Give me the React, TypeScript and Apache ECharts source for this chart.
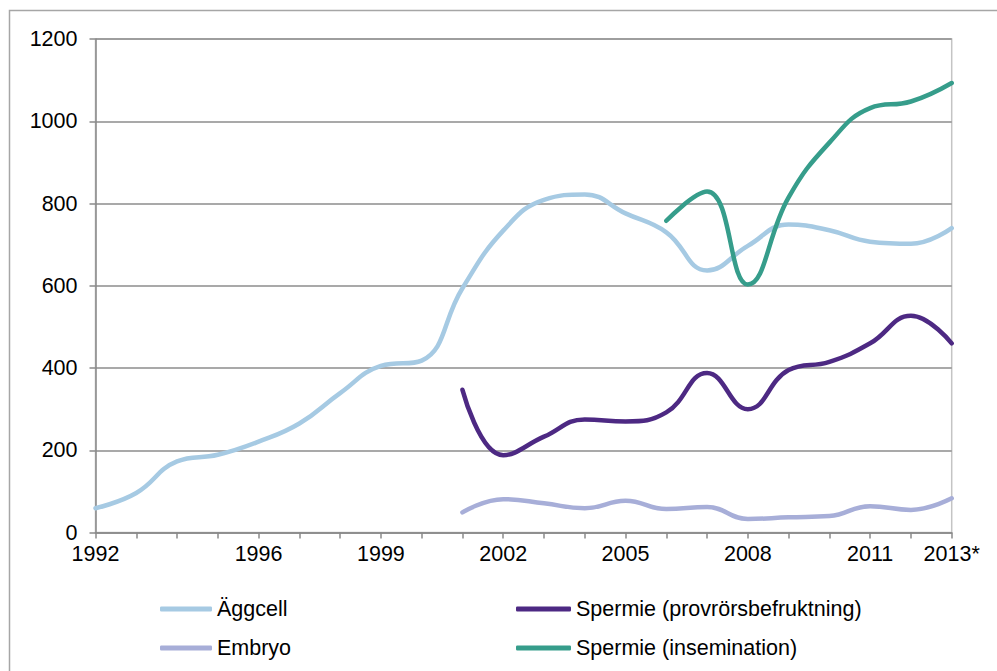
import React, { useEffect, useRef } from "react";
import * as echarts from "echarts";

const years = ["1992","1993","1994","1995","1996","1997","1998","1999","2000","2001","2002","2003","2004","2005","2006","2007","2008","2009","2010","2011","2012","2013*"];
const shownLabels = ["1992","1996","1999","2002","2005","2008","2011","2013*"];

const aggcell = [59, 96, 173, 189, 221, 265, 339, 405, 418, 594, 734, 809, 822, 776, 730, 637, 697, 749, 735, 707, 702, 740];
const spermieProvror = [null, null, null, null, null, null, null, null, null, 347, 188, 233, 275, 270, 292, 388, 300, 395, 415, 460, 527, 460];
const embryo = [null, null, null, null, null, null, null, null, null, 49, 81, 71, 59, 77, 57, 62, 33, 37, 40, 64, 55, 83];
const spermieInsem = [null, null, null, null, null, null, null, null, null, null, null, null, null, null, 758, 829, 603, 815, 948, 1032, 1048, 1093];

const yTicks = [0, 200, 400, 600, 800, 1000, 1200];

const FONT = "Liberation Sans, Arial, sans-serif";
const FS = 21.5;

export default function App() {
  const ref = useRef<HTMLDivElement>(null);
  useEffect(() => {
    if (!ref.current) return;
    const chart = echarts.init(ref.current, null, { renderer: "svg" });
    const mk = (name: string, data: (number | null)[], color: string) => ({
      name,
      type: "line",
      data,
      smooth: 0.45,
      showSymbol: false,
      symbol: "none",
      connectNulls: false,
      lineStyle: { color, width: 4.5, cap: "round" },
      itemStyle: { color },
    });
    const legendCommon = {
      orient: "vertical",
      top: 593,
      icon: "roundRect",
      itemHeight: 5,
      itemGap: 17,
      textStyle: { color: "#000", fontSize: FS, fontFamily: FONT, lineHeight: 22 },
    };
    chart.setOption({
      animation: false,
      backgroundColor: "#ffffff",
      textStyle: { fontFamily: FONT },
      grid: {
        left: 95.5,
        right: 45.3,
        top: 39,
        bottom: 138.5,
        show: true,
        borderColor: "#c4c4c4",
        borderWidth: 1.5,
      },
      xAxis: {
        type: "category",
        data: years,
        boundaryGap: false,
        axisLine: { lineStyle: { color: "#8a8a8a", width: 1.5 } },
        axisTick: { show: true, length: 6, lineStyle: { color: "#8a8a8a", width: 1.5 }, interval: 0 },
        axisLabel: {
          interval: 0,
          formatter: (v: string) => (shownLabels.includes(v) ? v : ""),
          color: "#000",
          fontSize: FS,
          fontFamily: FONT,
          margin: 10,
        },
        splitLine: { show: false },
      },
      yAxis: {
        type: "value",
        min: 0,
        max: 1200,
        interval: 200,
        axisLine: { show: true, lineStyle: { color: "#8a8a8a", width: 1.5 } },
        axisTick: { show: true, length: 6, lineStyle: { color: "#8a8a8a", width: 1.5 } },
        axisLabel: {
          color: "#000",
          fontSize: FS,
          fontFamily: FONT,
          margin: 18,
          formatter: (v: number) => (yTicks.includes(v) ? String(v) : ""),
        },
        splitLine: { show: true, lineStyle: { color: "#8c8c8c", width: 1.5 } },
      },
      legend: [
        { ...legendCommon, data: ["Äggcell", "Embryo"], left: 155, itemWidth: 52 },
        { ...legendCommon, data: ["Spermie (provrörsbefruktning)", "Spermie (insemination)"], left: 511, itemWidth: 55 },
      ],
      graphic: [
        {
          type: "rect",
          shape: { x: 9.5, y: 10.5, width: 1100, height: 800 },
          style: { fill: "none", stroke: "#a6a6a6", lineWidth: 1.5 },
          silent: true,
        },
      ],
      series: [
        mk("Äggcell", aggcell, "#a6cae3"),
        mk("Spermie (provrörsbefruktning)", spermieProvror, "#4d2983"),
        mk("Embryo", embryo, "#a7aed8"),
        mk("Spermie (insemination)", spermieInsem, "#369d8b"),
      ],
    });
    return () => chart.dispose();
  }, []);
  return (
    <div
      ref={ref}
      style={{ position: "absolute", left: 0, top: 0, width: 997, height: 671 }}
    />
  );
}
